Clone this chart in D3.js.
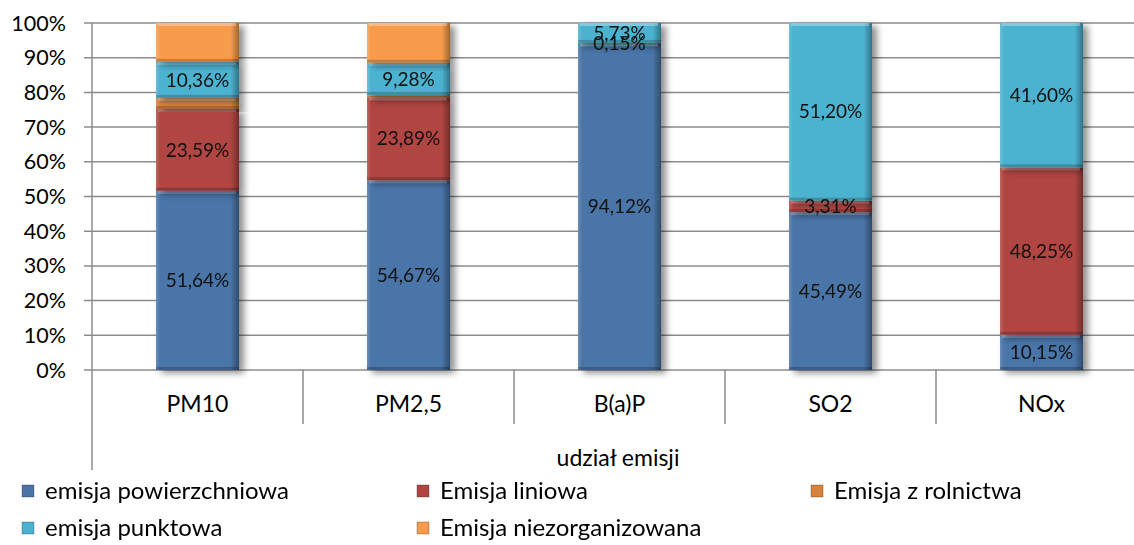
<!DOCTYPE html>
<html>
<head>
<meta charset="utf-8">
<script src="https://cdn.jsdelivr.net/npm/d3@7"></script>
<style>
  body { margin: 0; background: #fff; }
  svg { font-family: Lato, "Open Sans", sans-serif; }
</style>
</head>
<body>
<svg id="chart"></svg>
<script>
// categories and series (share of emissions, %)
var categories = ["PM10", "PM2,5", "B(a)P", "SO2", "NOx"];
var seriesNames = ["emisja powierzchniowa", "Emisja liniowa", "Emisja z rolnictwa", "emisja punktowa", "Emisja niezorganizowana"];
var powierzchniowa = [51.64, 54.67, 94.12, 45.49, 10.15];
var liniowa = [23.59, 23.89, 0.15, 3.31, 48.25];
var rolnictwa = [3.2, 0.7, 0, 0, 0];
var punktowa = [10.36, 9.28, 5.73, 51.20, 41.60];
var niezorganizowana = [11.21, 11.46, 0, 0, 0];
var yTicks = [0, 10, 20, 30, 40, 50, 60, 70, 80, 90, 100];
var axisTitle = "udział emisji";

var colors = ["#4a74a8", "#b04542", "#d9833a", "#4bb2d0", "#f79c4c"];
var showLabel = [true, true, false, true, false];

var width = 1134, height = 545;
var svg = d3.select("#chart").attr("width", width).attr("height", height);

var table = categories.map(function (c, i) {
  return {
    cat: c,
    s0: powierzchniowa[i], s1: liniowa[i], s2: rolnictwa[i], s3: punktowa[i], s4: niezorganizowana[i]
  };
});
var keys = ["s0", "s1", "s2", "s3", "s4"];
var stacked = d3.stack().keys(keys)(table);

var x = d3.scaleBand().domain(categories).range([92, 1147]).paddingInner(0).paddingOuter(0);
var y = d3.scaleLinear().domain([0, 100]).range([370, 23]);
var barW = 83;

// defs: shadow and bevel gradient
var defs = svg.append("defs");
var f = defs.append("filter").attr("id", "shadow").attr("x", "-20%").attr("y", "-10%").attr("width", "150%").attr("height", "130%");
f.append("feGaussianBlur").attr("in", "SourceAlpha").attr("stdDeviation", 3.5);
f.append("feOffset").attr("dx", 5).attr("dy", 3).attr("result", "ob");
f.append("feComponentTransfer").append("feFuncA").attr("type", "linear").attr("slope", 0.45);
var fm = f.append("feMerge");
fm.append("feMergeNode");
fm.append("feMergeNode").attr("in", "SourceGraphic");

var gh = defs.append("linearGradient").attr("id", "bevelH").attr("x1", 0).attr("x2", 1);
gh.append("stop").attr("offset", "0").attr("stop-color", "#fff").attr("stop-opacity", 0.18);
gh.append("stop").attr("offset", "0.05").attr("stop-color", "#fff").attr("stop-opacity", 0);
gh.append("stop").attr("offset", "0.9").attr("stop-color", "#000").attr("stop-opacity", 0);
gh.append("stop").attr("offset", "1").attr("stop-color", "#000").attr("stop-opacity", 0.35);

// gridlines and y ticks
svg.append("g").selectAll("line").data(yTicks).join("line")
  .attr("x1", 84).attr("x2", width)
  .attr("y1", function (d) { return y(d); }).attr("y2", function (d) { return y(d); })
  .attr("stroke", "#8c8c8c").attr("stroke-width", 1.5);

svg.append("g").selectAll("text").data(yTicks).join("text")
  .attr("x", 66).attr("y", function (d) { return y(d); })
  .attr("dy", "0.35em").attr("text-anchor", "end")
  .attr("font-size", 21.5).attr("fill", "#000")
  .text(function (d) { return d + "%"; });

// category axis
svg.append("line").attr("x1", 92).attr("x2", 92).attr("y1", 23).attr("y2", 470)
  .attr("stroke", "#8c8c8c").attr("stroke-width", 1.5);
svg.append("g").selectAll("line").data(categories.slice(1)).join("line")
  .attr("x1", function (d) { return x(d); }).attr("x2", function (d) { return x(d); })
  .attr("y1", 370).attr("y2", 424)
  .attr("stroke", "#8c8c8c").attr("stroke-width", 1.5);
svg.append("g").selectAll("text").data(categories).join("text")
  .attr("x", function (d) { return x(d) + x.bandwidth() / 2; }).attr("y", 404)
  .attr("dy", "0.35em").attr("text-anchor", "middle").attr("font-size", 23)
  .text(function (d) { return d; });
svg.append("text").attr("x", 618).attr("y", 458).attr("dy", "0.35em")
  .attr("text-anchor", "middle").attr("font-size", 23).text(axisTitle);

// bars
var bars = svg.append("g");
stacked.forEach(function (layer, si) {
  var g = bars.append("g").attr("filter", "url(#shadow)");
  layer.forEach(function (d, ci) {
    var h = y(d[0]) - y(d[1]);
    if (h <= 0.01) return;
    var bx = x(categories[ci]) + (x.bandwidth() - barW) / 2;
    var seg = g.append("g");
    seg.append("rect").attr("x", bx).attr("y", y(d[1])).attr("width", barW).attr("height", h)
      .attr("fill", colors[si]);
    seg.append("rect").attr("x", bx).attr("y", y(d[1])).attr("width", barW).attr("height", h)
      .attr("fill", "url(#bevelH)");
    var t = Math.min(3, h / 3);
    seg.append("rect").attr("x", bx + 2).attr("y", y(d[1])).attr("width", barW - 5).attr("height", t)
      .attr("fill", "#fff").attr("opacity", 0.3);
    seg.append("rect").attr("x", bx).attr("y", y(d[0]) - t).attr("width", barW).attr("height", t)
      .attr("fill", "#000").attr("opacity", 0.2);
  });
});

// value labels
var labels = svg.append("g");
stacked.forEach(function (layer, si) {
  if (!showLabel[si]) return;
  layer.forEach(function (d, ci) {
    var v = d[1] - d[0];
    if (v <= 0) return;
    labels.append("text")
      .attr("x", x(categories[ci]) + x.bandwidth() / 2)
      .attr("y", y((d[0] + d[1]) / 2))
      .attr("dy", "0.35em").attr("text-anchor", "middle")
      .attr("font-size", 19).attr("fill", "#111")
      .text(v.toFixed(2).replace(".", ",") + "%");
  });
});

// legend
var legendPos = [[22, 491], [417, 491], [811, 491], [22, 528], [417, 528]];
var lg = svg.append("g");
seriesNames.forEach(function (n, i) {
  var p = legendPos[i];
  lg.append("rect").attr("x", p[0]).attr("y", p[1] - 6).attr("width", 12).attr("height", 12)
    .attr("fill", colors[i]);
  lg.append("rect").attr("x", p[0]).attr("y", p[1] - 6).attr("width", 12).attr("height", 12)
    .attr("fill", "none").attr("stroke", "#000").attr("stroke-opacity", 0.25);
  lg.append("text").attr("x", p[0] + 23).attr("y", p[1]).attr("dy", "0.35em")
    .attr("font-size", 24).text(n);
});
</script>
</body>
</html>
